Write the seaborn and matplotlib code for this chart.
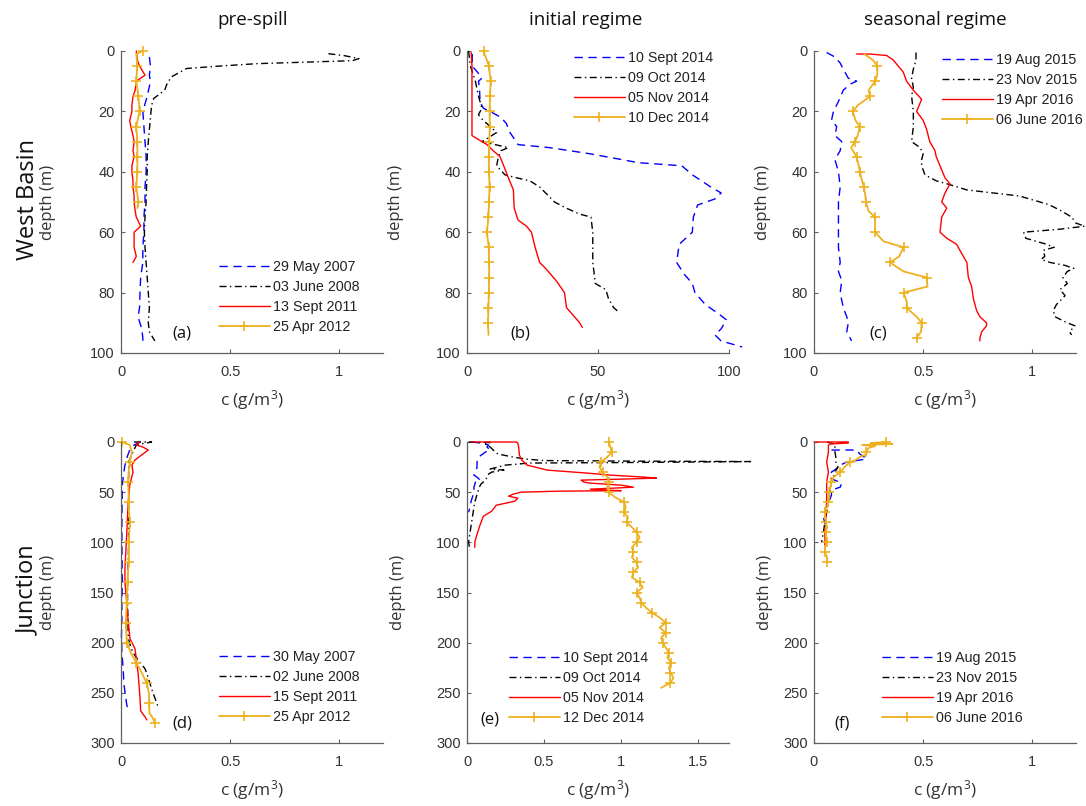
import matplotlib
matplotlib.use('Agg')
import matplotlib.pyplot as plt
import seaborn as sns

# ---------------- data ----------------
col_titles = ['pre-spill', 'initial regime', 'seasonal regime']
row_titles = ['West Basin', 'Junction']

labels_a = ['29 May 2007', '03 June 2008', '13 Sept 2011', '25 Apr 2012']
labels_b = ['10 Sept 2014', '09 Oct 2014', '05 Nov 2014', '10 Dec 2014']
labels_c = ['19 Aug 2015', '23 Nov 2015', '19 Apr 2016', '06 June 2016']
labels_d = ['30 May 2007', '02 June 2008', '15 Sept 2011', '25 Apr 2012']
labels_e = ['10 Sept 2014', '09 Oct 2014', '05 Nov 2014', '12 Dec 2014']
labels_f = ['19 Aug 2015', '23 Nov 2015', '19 Apr 2016', '06 June 2016']

# panel (a)
a_d_blue = [2, 5, 8, 10, 15, 20, 25, 30, 35, 40, 45, 50, 55, 60, 65, 70, 75, 80, 85, 88, 92, 95, 97]
a_v_blue = [0.13, 0.135, 0.13, 0.135, 0.12, 0.10, 0.105, 0.11, 0.115, 0.115, 0.11, 0.11, 0.105, 0.105,
            0.10, 0.10, 0.09, 0.087, 0.085, 0.078, 0.095, 0.10, 0.10]
a_d_black = [0.9, 1.5, 2.5, 3.2, 4.2, 5.0, 5.8, 7, 8.6, 11, 13, 15.7, 18, 22, 26, 30, 35, 40, 45, 50,
             55, 60, 65, 70, 75, 80, 85, 90, 93, 96]
a_v_black = [0.95, 1.02, 1.09, 1.06, 0.62, 0.45, 0.30, 0.27, 0.23, 0.21, 0.20, 0.15, 0.14, 0.135, 0.13,
             0.125, 0.12, 0.12, 0.117, 0.115, 0.11, 0.107, 0.11, 0.115, 0.12, 0.125, 0.13, 0.125, 0.13, 0.155]
a_d_red = [0, 3, 5, 8, 10, 13, 15, 18, 20, 23, 25, 28, 30, 33, 35, 38, 40, 43, 45, 48, 50, 53, 55, 58,
           60, 63, 65, 68, 70]
a_v_red = [0.07, 0.075, 0.085, 0.11, 0.07, 0.065, 0.055, 0.05, 0.05, 0.04, 0.045, 0.055, 0.06, 0.055,
           0.06, 0.05, 0.05, 0.055, 0.055, 0.06, 0.06, 0.065, 0.07, 0.09, 0.06, 0.06, 0.06, 0.07, 0.055]
a_d_orange = [0, 1, 5, 10, 15, 20, 25, 30, 35, 40, 45, 50, 52]
a_v_orange = [0.10, 0.07, 0.075, 0.07, 0.08, 0.085, 0.07, 0.075, 0.075, 0.075, 0.07, 0.08, 0.075]

# panel (b)
b_d_blue = [1, 5, 7, 9, 10, 13, 17, 19, 20, 22, 24, 27, 31, 32, 34, 37, 38, 41, 45, 47, 49, 51, 55, 60,
            64, 70, 74, 77, 80, 84, 87, 89, 92, 94, 96, 98]
b_v_blue = [2, 2, 4, 5.7, 4.4, 4.8, 5, 6.3, 8.8, 13, 15, 16.4, 19.5, 31.5, 46.7, 65.6, 82, 86, 93, 97,
            94.6, 88, 86.4, 86, 81, 80, 83, 86, 87, 91, 96, 99, 97, 94.6, 97, 105]
b_d_black = [0, 5, 10, 15, 19, 21, 22, 25, 27, 29, 30, 32, 33, 35, 38, 41, 42, 43, 45, 47, 50, 52, 54,
             55, 60, 70, 77, 79, 82, 85, 86.5]
b_v_black = [0.6, 1.3, 3.2, 4.4, 5.7, 4.4, 5, 8.8, 11.3, 7.6, 5.7, 15.8, 13, 12, 11.3, 14.5, 19, 24,
             27.7, 30, 33.4, 37.8, 43, 47.3, 48, 48, 49, 53, 54, 56, 58]
b_d_red = [0.5, 5, 20, 28, 29, 31, 33, 35, 38, 42, 46, 52, 56, 58, 60, 65, 70, 72, 76, 80, 85, 87, 90, 91.5]
b_v_red = [1.6, 1.9, 1.9, 1.9, 3.8, 7.6, 10, 12.6, 14, 15.8, 17.7, 18, 19.5, 22.7, 24.6, 26, 27.7, 30,
           34, 37.2, 38, 40, 43, 44]
b_d_orange = [0, 5, 10, 15, 20, 25, 30, 35, 40, 45, 50, 55, 60, 65, 70, 75, 80, 85, 90, 94]
b_v_orange = [6.3, 8.4, 9.0, 8.8, 8.6, 8.7, 8.5, 8.3, 8.4, 8.6, 8.4, 8.2, 7.6, 8.3, 8.4, 8.5, 8.3, 8.2,
              8.0, 8.2]

# panel (c)
c_d_blue = [0.5, 2, 4, 6, 9, 10, 11, 13, 17, 20, 23, 25, 28, 30, 33, 36, 40, 45, 50, 55, 60, 65, 70,
            73, 76, 80, 85, 88, 90, 93, 95, 96]
c_v_blue = [0.058, 0.096, 0.12, 0.134, 0.157, 0.195, 0.165, 0.134, 0.11, 0.089, 0.08, 0.104, 0.096,
            0.127, 0.12, 0.096, 0.112, 0.12, 0.112, 0.112, 0.112, 0.112, 0.12, 0.112, 0.127, 0.12,
            0.134, 0.15, 0.157, 0.15, 0.165, 0.172]
c_d_black = [0.5, 3, 6, 9, 12, 15, 20, 25, 30, 32, 34, 36, 38, 41, 43, 44, 46, 47, 48, 50, 51, 53, 55,
             57, 58, 59, 60, 62, 64, 65, 66, 68, 69, 70, 71, 72, 73, 75, 77, 79, 81, 84, 86, 88, 90,
             91, 93, 94]
c_v_black = [0.467, 0.467, 0.455, 0.447, 0.455, 0.447, 0.455, 0.455, 0.447, 0.486, 0.5, 0.493, 0.493,
             0.508, 0.56, 0.61, 0.70, 0.82, 0.94, 1.035, 1.08, 1.134, 1.18, 1.20, 1.24, 1.127, 0.96,
             0.97, 1.065, 1.1, 1.05, 1.057, 1.04, 1.08, 1.15, 1.19, 1.16, 1.14, 1.16, 1.127, 1.15,
             1.11, 1.096, 1.104, 1.16, 1.195, 1.17, 1.18]
c_d_red = [1, 1, 1.5, 3, 5, 7, 10, 13, 16, 20, 23, 26, 30, 33, 35, 38, 42, 44, 47, 50, 52, 55, 60, 62,
           64, 67, 70, 75, 78, 82, 86, 88, 90, 91, 93, 95, 96]
c_v_red = [0.195, 0.257, 0.333, 0.363, 0.386, 0.409, 0.424, 0.455, 0.493, 0.47, 0.5, 0.516, 0.53,
           0.554, 0.56, 0.577, 0.6, 0.623, 0.6, 0.585, 0.608, 0.585, 0.577, 0.608, 0.653, 0.676, 0.7,
           0.707, 0.722, 0.73, 0.745, 0.76, 0.79, 0.79, 0.768, 0.76, 0.76]
c_d_orange = [1, 3, 5, 8, 10, 13, 15, 18, 20, 23, 25, 28, 30, 32, 35, 38, 40, 43, 45, 48, 50, 53, 55,
              58, 60, 63, 65, 68, 70, 73, 75, 78, 80, 83, 85, 88, 90, 93, 95]
c_v_orange = [0.23, 0.27, 0.29, 0.29, 0.28, 0.25, 0.257, 0.2, 0.178, 0.19, 0.21, 0.2, 0.188, 0.17,
              0.195, 0.205, 0.21, 0.22, 0.229, 0.235, 0.238, 0.25, 0.28, 0.28, 0.28, 0.318, 0.41,
              0.39, 0.348, 0.41, 0.516, 0.52, 0.41, 0.425, 0.424, 0.47, 0.493, 0.49, 0.47]

# panel (d)
d_d_blue = [0, 3, 8, 15, 23, 35, 43, 60, 80, 100, 120, 140, 160, 180, 193, 210, 226, 240, 249, 260, 269]
d_v_blue = [0.09, 0.06, 0.04, 0.028, 0.018, 0.01, 0.006, 0.005, 0.004, 0.004, 0.005, 0.006, 0.004,
            0.004, 0.002, 0.004, 0.01, 0.013, 0.018, 0.025, 0.033]
d_d_black = [0, 0, 3, 10, 20, 40, 60, 80, 100, 120, 140, 160, 180, 195, 205, 213, 226, 235, 246, 255, 264]
d_v_black = [0.06, 0.14, 0.07, 0.055, 0.035, 0.035, 0.036, 0.035, 0.035, 0.033, 0.03, 0.03, 0.032,
             0.033, 0.045, 0.064, 0.11, 0.125, 0.14, 0.155, 0.17]
d_d_red = [0, 3, 5, 8, 12, 18, 23, 30, 43, 60, 93, 110, 126, 140, 159, 179, 196, 206, 216, 232, 255,
           268, 274, 277]
d_v_red = [0.085, 0.07, 0.1, 0.125, 0.1, 0.064, 0.05, 0.055, 0.04, 0.033, 0.026, 0.022, 0.018, 0.018,
           0.026, 0.033, 0.041, 0.064, 0.07, 0.079, 0.087, 0.09, 0.11, 0.118]
d_d_orange = [0, 3, 10, 20, 30, 40, 50, 60, 70, 80, 90, 100, 110, 120, 130, 140, 150, 160, 170, 180,
              190, 200, 210, 220, 230, 240, 250, 260, 270, 275, 280]
d_v_orange = [0.003, 0.04, 0.05, 0.04, 0.035, 0.033, 0.035, 0.035, 0.036, 0.041, 0.038, 0.035, 0.036,
              0.035, 0.032, 0.03, 0.028, 0.026, 0.024, 0.022, 0.024, 0.027, 0.045, 0.07, 0.095, 0.117,
              0.128, 0.13, 0.13, 0.145, 0.155]

# panel (e)
e_d_blue = [0, 1, 3, 5, 8, 10, 15, 20, 25, 30, 33, 35, 38, 40, 45, 50, 55, 60, 65, 70]
e_v_blue = [0.03, 0.086, 0.14, 0.13, 0.15, 0.12, 0.075, 0.065, 0.065, 0.055, 0.045, 0.065, 0.086,
            0.055, 0.045, 0.045, 0.035, 0.025, 0.02, 0.01]
e_d_black = [0, 0.5, 2, 5, 8, 12, 15, 17, 18.5, 19, 19.5, 20.5, 21, 22, 23, 25, 27, 28, 29, 30, 32,
             35, 38, 42, 45, 50, 55, 60, 70, 80, 90, 100, 108]
e_v_black = [0.01, 0.15, 0.12, 0.15, 0.17, 0.2, 0.3, 0.38, 0.5, 1.0, 1.84, 1.0, 0.4, 0.33, 0.25, 0.2,
             0.15, 0.24, 0.2, 0.16, 0.14, 0.13, 0.12, 0.09, 0.08, 0.07, 0.06, 0.05, 0.04, 0.03, 0.02,
             0.01, 0.02]
e_d_red = [0, 0, 1, 5, 13, 18, 23, 28, 31, 33, 35, 36, 37, 38, 40, 41, 43, 45, 46, 47, 48, 48.5, 49,
           50, 52, 54, 56, 59, 63, 69, 74, 83, 93, 99, 105]
e_v_red = [0.03, 0.32, 0.33, 0.335, 0.34, 0.355, 0.39, 0.52, 0.78, 0.93, 1.15, 1.23, 1.0, 0.74, 0.76,
           0.8, 1.0, 1.08, 0.95, 0.8, 0.9, 1.0, 0.6, 0.35, 0.30, 0.27, 0.33, 0.31, 0.19, 0.16, 0.106,
           0.084, 0.063, 0.052, 0.05]
e_d_orange = [0, 5, 10, 15, 20, 25, 30, 35, 40, 45, 50, 55, 60, 65, 70, 75, 80, 85, 90, 95, 100, 105,
              110, 115, 120, 125, 130, 135, 140, 145, 150, 155, 160, 165, 170, 175, 180, 185, 190, 195,
              200, 205, 210, 215, 220, 225, 230, 235, 240, 245]
e_v_orange = [0.92, 0.93, 0.94, 0.91, 0.87, 0.86, 0.88, 0.91, 0.92, 0.91, 0.92, 0.96, 1.02, 1.03,
              1.02, 1.045, 1.035, 1.07, 1.1, 1.12, 1.1, 1.07, 1.08, 1.07, 1.1, 1.11, 1.08, 1.07, 1.12,
              1.14, 1.1, 1.12, 1.13, 1.16, 1.2, 1.25, 1.29, 1.25, 1.29, 1.26, 1.27, 1.29, 1.31, 1.3,
              1.325, 1.31, 1.32, 1.34, 1.32, 1.26]

# panel (f)
f_d_blue = [8, 8, 12, 15, 17, 20, 23, 27, 30, 36, 41, 45, 48, 53, 61, 68, 75, 81, 85]
f_v_blue = [0.08, 0.195, 0.21, 0.23, 0.24, 0.15, 0.12, 0.1, 0.08, 0.073, 0.127, 0.12, 0.08, 0.08,
            0.066, 0.05, 0.043, 0.05, 0.058]
f_d_black = [0, 2, 5, 10, 15, 20, 25, 30, 35, 40, 50, 60, 70, 80, 90, 100]
f_v_black = [0.06, 0.096, 0.096, 0.096, 0.1, 0.1, 0.11, 0.096, 0.089, 0.08, 0.073, 0.066, 0.058, 0.05,
             0.043, 0.035]
f_d_red = [0, 0, 1, 2, 3, 10, 20, 30, 40, 50, 60, 70, 80, 90, 100, 103]
f_v_red = [0.0, 0.157, 0.157, 0.073, 0.066, 0.066, 0.058, 0.066, 0.058, 0.058, 0.058, 0.055, 0.055,
           0.05, 0.05, 0.05]
f_d_orange = [0, 1, 2, 3, 4, 6, 10, 12, 15, 18, 20, 25, 30, 35, 40, 45, 50, 55, 60, 65, 70, 75, 80,
              85, 90, 95, 100, 105, 110, 115, 120]
f_v_orange = [0.33, 0.26, 0.36, 0.22, 0.28, 0.25, 0.24, 0.24, 0.21, 0.19, 0.165, 0.14, 0.12, 0.09,
              0.08, 0.075, 0.07, 0.07, 0.065, 0.06, 0.05, 0.05, 0.055, 0.06, 0.055, 0.055, 0.06, 0.05,
              0.05, 0.06, 0.06]

# ---------------- style ----------------
sns.set_style('ticks')
plt.rcParams['font.family'] = ['Liberation Sans', 'DejaVu Sans']
plt.rcParams['mathtext.fontset'] = 'custom'
plt.rcParams['mathtext.rm'] = 'Open Sans'
plt.rcParams['mathtext.it'] = 'Open Sans'
plt.rcParams['mathtext.default'] = 'regular'

LBL_FONT = ['Open Sans', 'DejaVu Sans']
BLUE, BLACK, RED, ORANGE = '#0000ff', '#000000', '#ff0000', '#edb120'
AXCOL = '#606060'
TXTCOL = '#333333'

W, H = 1086, 806
fig = plt.figure(figsize=(W / 100, H / 100), dpi=100)

col_left = [121, 467, 814]
ax_w = 262
rows = [(51, 353), (442, 743)]

LEG_FS = 10.3
LEG_HL = 3.6
LEG_HTP = 0.2

panels = [
    dict(tag='(a)', r=0, c=0, data=[(a_d_blue, a_v_blue), (a_d_black, a_v_black), (a_d_red, a_v_red), (a_d_orange, a_v_orange)],
         labels=labels_a, xlim=(0, 1.2), xticks=[0, 0.5, 1], xtl=['0', '0.5', '1'], step=5,
         leg=(273, 260), tagpos=(182, 334), ylx=48),
    dict(tag='(b)', r=0, c=1, data=[(b_d_blue, b_v_blue), (b_d_black, b_v_black), (b_d_red, b_v_red), (b_d_orange, b_v_orange)],
         labels=labels_b, xlim=(0, 100), xticks=[0, 50, 100], xtl=['0', '50', '100'], step=5,
         leg=(628, 51), tagpos=(520, 334), ylx=396),
    dict(tag='(c)', r=0, c=2, data=[(c_d_blue, c_v_blue), (c_d_black, c_v_black), (c_d_red, c_v_red), (c_d_orange, c_v_orange)],
         labels=labels_c, xlim=(0, 1.2), xticks=[0, 0.5, 1], xtl=['0', '0.5', '1'], step=5,
         leg=(996, 53), tagpos=(878, 334), ylx=763),
    dict(tag='(d)', r=1, c=0, data=[(d_d_blue, d_v_blue), (d_d_black, d_v_black), (d_d_red, d_v_red), (d_d_orange, d_v_orange)],
         labels=labels_d, xlim=(0, 1.2), xticks=[0, 0.5, 1], xtl=['0', '0.5', '1'], step=20,
         leg=(273, 650), tagpos=(182, 724), ylx=48),
    dict(tag='(e)', r=1, c=1, data=[(e_d_blue, e_v_blue), (e_d_black, e_v_black), (e_d_red, e_v_red), (e_d_orange, e_v_orange)],
         labels=labels_e, xlim=(0, 1.7), xticks=[0, 0.5, 1, 1.5], xtl=['0', '0.5', '1', '1.5'], step=10,
         leg=(563, 651), tagpos=(490, 720), ylx=398),
    dict(tag='(f)', r=1, c=2, data=[(f_d_blue, f_v_blue), (f_d_black, f_v_black), (f_d_red, f_v_red), (f_d_orange, f_v_orange)],
         labels=labels_f, xlim=(0, 1.2), xticks=[0, 0.5, 1], xtl=['0', '0.5', '1'], step=10,
         leg=(936, 651), tagpos=(842, 724), ylx=765),
]

line_styles = [
    dict(color=BLUE, linestyle=(0, (6, 4)), linewidth=1.0),
    dict(color=BLACK, linestyle=(0, (5, 2.5, 1, 2.5)), linewidth=1.0),
    dict(color=RED, linestyle='-', linewidth=1.0),
    dict(color=ORANGE, linestyle='-', linewidth=1.3, marker='+', markersize=7,
         markeredgecolor=ORANGE, markeredgewidth=1.2),
]

for p in panels:
    top, bot = rows[p['r']]
    left = col_left[p['c']]
    ax = fig.add_axes([left / W, 1 - bot / H, ax_w / W, (bot - top) / H])
    for k, ((dep, val), lab) in enumerate(zip(p['data'], p['labels'])):
        kws = dict(line_styles[k])
        if k == 3:
            kws['markevery'] = [i for i, dd in enumerate(dep) if dd % p['step'] == 0]
        sns.lineplot(x=val, y=dep, ax=ax, sort=False, estimator=None, label=lab,
                     clip_on=False, **kws)
    ax.set_xlim(*p['xlim'])
    if p['r'] == 0:
        ax.set_ylim(100, 0)
        ax.set_yticks([0, 20, 40, 60, 80, 100])
    else:
        ax.set_ylim(300, 0)
        ax.set_yticks([0, 50, 100, 150, 200, 250, 300])
    ax.set_xticks(p['xticks'])
    ax.set_xticklabels(p['xtl'])
    for s in ['top', 'right']:
        ax.spines[s].set_visible(False)
    for s in ['left', 'bottom']:
        ax.spines[s].set_color(AXCOL)
        ax.spines[s].set_linewidth(0.9)
    ax.tick_params(direction='in', length=3, width=0.8, color=AXCOL, labelcolor=TXTCOL,
                   labelsize=10.5, bottom=True, left=True)
    ax.tick_params(axis='x', pad=8.5)
    ax.tick_params(axis='y', pad=4.5)
    ax.set_xlabel(r'c (g/m$^{3}$)', fontsize=12.5, color=TXTCOL, family=LBL_FONT, va='center')
    ax.xaxis.set_label_coords(0.5, -47 / (bot - top))
    ax.set_ylabel('depth (m)', fontsize=12, color=TXTCOL, family=LBL_FONT, va='center')
    ax.yaxis.set_label_coords((p['ylx'] - left) / ax_w, 0.5)
    handles, labs = ax.get_legend_handles_labels()
    fs_px = LEG_FS * 100 / 72
    lx = p['leg'][0] - (LEG_HL + LEG_HTP) * fs_px
    ax.legend(handles, labs, loc='upper left',
              bbox_to_anchor=(lx / W, 1 - p['leg'][1] / H),
              bbox_transform=fig.transFigure, frameon=False, fontsize=LEG_FS,
              handlelength=LEG_HL, handletextpad=LEG_HTP, labelspacing=0.43,
              borderpad=0, borderaxespad=0, labelcolor='#222222')
    fig.text(p['tagpos'][0] / W, 1 - p['tagpos'][1] / H, p['tag'], ha='center', va='center',
             fontsize=12, family=LBL_FONT, color='#111111')

title_pos = [253, 586, 935]
for t, x in zip(col_titles, title_pos):
    fig.text(x / W, 1 - 20 / H, t, ha='center', va='center', fontsize=13.5,
             family=LBL_FONT, color='#111111')

for t, y in zip(row_titles, [200, 590]):
    fig.text(28 / W, 1 - y / H, t, ha='center', va='center', rotation=90, fontsize=17,
             family=LBL_FONT, color='#111111')

fig.savefig('out.png', dpi=100)
